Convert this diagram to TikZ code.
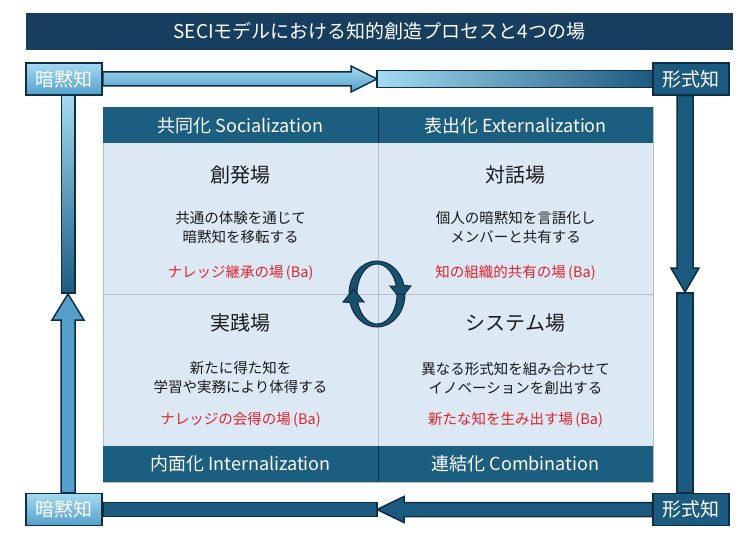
\documentclass[tikz,border=0pt]{standalone}
\usepackage{fontspec}
\setmainfont{Noto Sans CJK JP}
\usetikzlibrary{calc}

\definecolor{secinavy}{HTML}{173E5E}
\definecolor{secihead}{HTML}{1B5E80}
\definecolor{secidark}{HTML}{1D5A7F}
\definecolor{seciline}{HTML}{0E2E44}
\definecolor{secilightA}{HTML}{A4DAF2}
\definecolor{secilightB}{HTML}{559FCA}
\definecolor{secibody}{HTML}{DDE8F5}
\definecolor{secigrid}{HTML}{B5BFCA}
\definecolor{secired}{HTML}{E0242C}
\definecolor{secitext}{HTML}{1A1A1A}
\definecolor{secicycle}{HTML}{1B4F6E}

\begin{document}
\begin{tikzpicture}[x=1pt, y=-1pt,
    lightbox/.style={draw=seciline, line width=1.5pt, top color=secilightA, bottom color=secilightB,
      minimum width=76pt, minimum height=32pt, inner sep=0pt, text=white, font=\fontsize{19}{20}\selectfont},
    darkbox/.style={draw=seciline, line width=1.5pt, fill=secidark,
      minimum width=76pt, minimum height=32pt, inner sep=0pt, text=white, font=\fontsize{19}{20}\selectfont},
    arrowline/.style={draw=seciline, line width=1.5pt, line join=miter},
    hdr/.style={text=white, font=\fontsize{18}{20}\selectfont},
    baname/.style={text=secitext, font=\fontsize{20}{24}\selectfont},
    desc/.style={text=secitext, align=center, font=\fontsize{14.5}{19}\selectfont},
    redtxt/.style={text=secired, font=\fontsize{14.5}{18}\selectfont}]
      \useasboundingbox (0,0) rectangle (755,540);
      \fill[white] (0,0) rectangle (755,540);

      % title
      \node[fill=secinavy, minimum width=707pt, minimum height=37pt, text=white, font=\fontsize{19}{21}\selectfont] (title) at (379.5,31.5) {SECIモデルにおける知的創造プロセスと4つの場};

      % quadrants
      \draw[fill=secibody, draw=secigrid] (103,107) rectangle (653,482);
      \fill[secihead] (103,107) rectangle (653,143);
      \fill[secihead] (103,446) rectangle (653,482);
      \draw[secigrid] (103,294) -- (653,294);
      \draw[secigrid] (378,143) -- (378,446);
      \draw[seciline] (378,107) -- (378,143);
      \draw[seciline] (378,446) -- (378,482);

      \node[hdr] (soc) at (240.5,126) {共同化 Socialization};
      \node[hdr] (ext) at (515.5,126) {表出化 Externalization};
      \node[hdr] (int) at (240.5,464) {内面化 Internalization};
      \node[hdr] (com) at (515.5,464) {連結化 Combination};

      \node[baname] (soba) at (240.5,175) {創発場};
      \node[desc] (sodesc) at (240.5,227) {共通の体験を通じて\\暗黙知を移転する};
      \node[redtxt] (sored) at (240.5,273) {ナレッジ継承の場\,(Ba)};

      \node[baname] (exba) at (515.5,175) {対話場};
      \node[desc] (exdesc) at (515.5,227) {個人の暗黙知を言語化し\\メンバーと共有する};
      \node[redtxt] (exred) at (515.5,273) {知の組織的共有の場\,(Ba)};

      \node[baname] (inba) at (240.5,323) {実践場};
      \node[desc] (indesc) at (240.5,378) {新たに得た知を\\学習や実務により体得する};
      \node[redtxt] (inred) at (240.5,420) {ナレッジの会得の場\,(Ba)};

      \node[baname] (coba) at (515.5,323) {システム場};
      \node[desc] (codesc) at (515.5,378) {異なる形式知を組み合わせて\\イノベーションを創出する};
      \node[redtxt] (cored) at (515.5,420) {新たな知を生み出す場\,(Ba)};

      % cycle in the middle
      \draw[arrowline, line width=1pt, fill=secicycle] (349,294) arc[start angle=180, end angle=345, x radius=28, y radius=33]
        -- (411,286) -- (400.5,299) -- (390,286) -- (396.3,286.2) arc[start angle=345, end angle=180, x radius=20, y radius=30] -- cycle;
      \draw[arrowline, line width=1pt, fill=secicycle] (405,294) arc[start angle=0, end angle=165, x radius=28, y radius=33]
        -- (343,302) -- (353.5,289) -- (364,302) -- (357.7,301.8) arc[start angle=165, end angle=0, x radius=20, y radius=30] -- cycle;

      % corner boxes
      \node[lightbox] (tacit1) at (64,79) {暗黙知};
      \node[darkbox] (explicit1) at (691,79) {形式知};
      \node[lightbox] (tacit2) at (64,509.5) {暗黙知};
      \node[darkbox] (explicit2) at (691,509.5) {形式知};

      \coordinate (topmid) at (377,79);
      \coordinate (rightmid) at (685,292);
      \coordinate (botmid) at (377,509.5);
      \coordinate (leftmid) at (68,294);

      % top
      \draw[arrowline, top color=secilightA, bottom color=secilightB] ($(tacit1.east)+(0,-7)$) -- ($(topmid)+(-26,-7)$) -- ($(topmid)+(-26,-13)$)
        -- (topmid) -- ($(topmid)+(-26,13)$) -- ($(topmid)+(-26,7)$) -- ($(tacit1.east)+(0,7)$) -- cycle;
      \draw[arrowline, left color=secilightA, middle color=secilightA, right color=secidark] ($(topmid)+(0,-8.5)$) rectangle ($(explicit1.west)+(0,8.5)$);

      % right
      \draw[arrowline, fill=secidark] ($(explicit1.south)+(-14,0)$) -- ($(rightmid)+(-8,-24)$) -- ($(rightmid)+(-14,-24)$)
        -- (rightmid) -- ($(rightmid)+(14,-24)$) -- ($(rightmid)+(8,-24)$) -- ($(explicit1.south)+(2,0)$) -- cycle;
      \draw[arrowline, fill=secidark] ($(rightmid)+(-8,1)$) rectangle ($(explicit2.north)+(2,0)$);

      % bottom
      \draw[arrowline, fill=secidark] ($(explicit2.west)+(0,-7)$) -- ($(botmid)+(27,-7)$) -- ($(botmid)+(27,-13)$)
        -- (botmid) -- ($(botmid)+(27,13)$) -- ($(botmid)+(27,7)$) -- ($(explicit2.west)+(0,7)$) -- cycle;
      \draw[arrowline, fill=secidark] ($(botmid)+(0,-7)$) rectangle ($(tacit2.east)+(0,7)$);

      % left
      \draw[arrowline, left color=secilightB, middle color=secilightA, right color=secilightB] ($(tacit2.north)+(-3,0)$) -- ($(leftmid)+(-7,26)$) -- ($(leftmid)+(-16,26)$)
        -- (leftmid) -- ($(leftmid)+(16,26)$) -- ($(leftmid)+(7,26)$) -- ($(tacit2.north)+(11,0)$) -- cycle;
      \draw[arrowline, top color=secilightA, bottom color=secidark] ($(leftmid)+(-6.5,-1)$) rectangle ($(tacit1.south)+(11,0)$);
    \end{tikzpicture}
\end{document}
